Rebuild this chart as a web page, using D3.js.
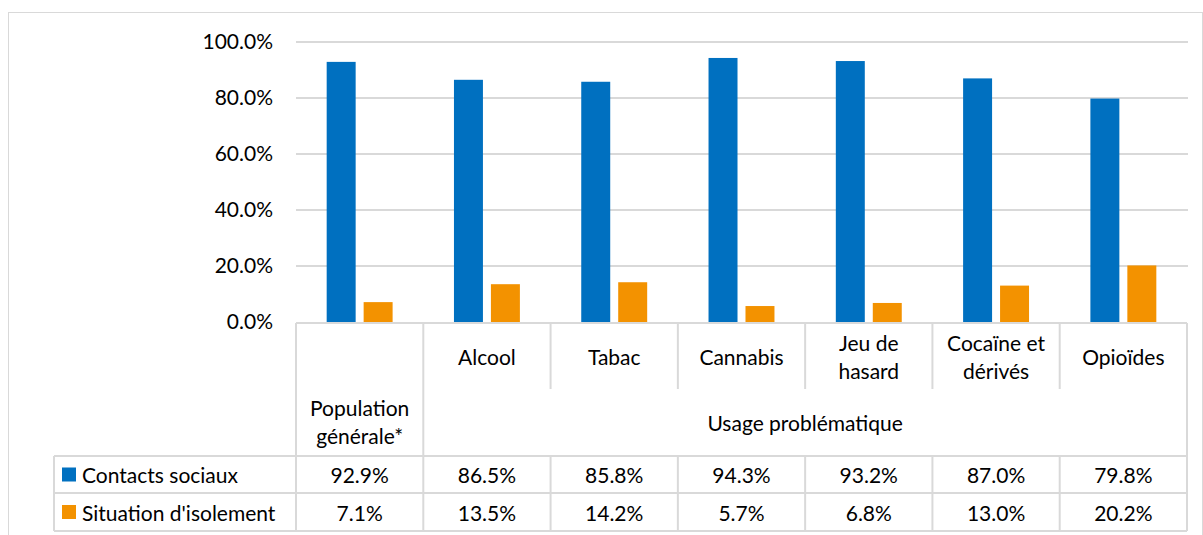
<!DOCTYPE html>
<html><head><meta charset="utf-8">
<script src="https://cdn.jsdelivr.net/npm/d3@7"></script>
<style>body{margin:0;background:#fff}svg{display:block}text{font-family:Lato,"Noto Sans",sans-serif;fill:#000}</style>
</head><body><svg id="c" width="1203" height="535"></svg>
<script>
const categories = [["Population","générale*"],["Alcool"],["Tabac"],["Cannabis"],["Jeu de","hasard"],["Cocaïne et","dérivés"],["Opioïdes"]];
const groupLabel = "Usage problématique";
const seriesNames = ["Contacts sociaux","Situation d'isolement"];
const contacts = [92.9,86.5,85.8,94.3,93.2,87.0,79.8];
const isolement = [7.1,13.5,14.2,5.7,6.8,13.0,20.2];
const yTicks = [0,20,40,60,80,100];
const colors = ["#0070C0","#F39200"];

const svg = d3.select("#c");
const grid = "#D9D9D9";
const fs = 21;
// outer border
svg.append("rect").attr("x",8.5).attr("y",12.5).attr("width",1194).attr("height",540).attr("fill","none").attr("stroke",grid);

const x0 = 296, x1 = 1187, yTop = 42, yBot = 322;
const ids = d3.range(categories.length);
const x = d3.scaleBand().domain(ids).range([x0,x1]).paddingInner(0).paddingOuter(0);
const y = d3.scaleLinear().domain([0,100]).range([yBot,yTop]);
const xs = d3.scaleBand().domain([0,1]).range([0,x.bandwidth()]).paddingInner(0.216).paddingOuter(0.83);

// gridlines
svg.append("g").selectAll("line").data(yTicks.filter(d=>d>0)).join("line")
  .attr("x1",x0).attr("x2",x1+1).attr("y1",d=>y(d)).attr("y2",d=>y(d)).attr("stroke",grid).attr("stroke-width",2);
// y labels
const yAxis = d3.axisLeft(y).tickValues(yTicks).tickFormat(d=>d.toFixed(1)+"%").tickSize(0).tickPadding(23);
const ga = svg.append("g").attr("transform",`translate(${x0},0)`).call(yAxis);
ga.select(".domain").remove();
ga.selectAll("text").attr("font-size",fs).attr("font-family","Lato").attr("fill","#000");

// bars
const series = [contacts,isolement];
series.forEach((vals,si)=>{
  svg.append("g").selectAll("rect").data(vals).join("rect")
    .attr("x",(d,i)=>x(i)+xs(si)).attr("width",xs.bandwidth())
    .attr("y",d=>y(d)).attr("height",d=>yBot-y(d)).attr("fill",colors[si]);
});

// data table
const rowTop = 323, rowCat = 389, rowGrp = 456, rowA = 493, rowB = 531, legL = 54;
const tl = svg.append("g").attr("stroke",grid).attr("stroke-width",2).attr("fill","none");
const L = (a,b,c,d)=>tl.append("line").attr("x1",a).attr("y1",b).attr("x2",c).attr("y2",d);
L(x0,rowTop,x1,rowTop);
L(legL,rowGrp,x1,rowGrp);
L(legL,rowA,x1,rowA);
L(legL,rowB,x1,rowB);
L(legL,rowGrp,legL,rowB);
ids.forEach(i=>{
  const xx = x(i);
  const full = (i===0||i===1);
  L(xx,rowTop,xx,full?rowB:rowCat);
  if(!full) L(xx,rowGrp,xx,rowB);
});
L(x1,rowTop,x1,rowB);

// category labels
const lh = 28;
ids.forEach(i=>{
  if(i===0) return;
  const lines = categories[i];
  const cy = (rowTop+rowCat)/2;
  lines.forEach((t,k)=>{
    svg.append("text").attr("x",x(i)+x.bandwidth()/2).attr("y",cy+(k-(lines.length-1)/2)*lh)
      .attr("text-anchor","middle").attr("dominant-baseline","central").attr("font-size",fs).text(t);
  });
});
{
  const lines = categories[0];
  const cy = (rowCat+rowGrp)/2 - 1;
  lines.forEach((t,k)=>{
    svg.append("text").attr("x",x(0)+x.bandwidth()/2).attr("y",cy+(k-(lines.length-1)/2)*lh)
      .attr("text-anchor","middle").attr("dominant-baseline","central").attr("font-size",fs).text(t);
  });
}
svg.append("text").attr("x",(x(1)+x1)/2).attr("y",(rowCat+rowGrp)/2-0.5)
  .attr("text-anchor","middle").attr("dominant-baseline","central").attr("font-size",fs).text(groupLabel);

// values rows
const rowsY = [(rowGrp+rowA)/2,(rowA+rowB)/2];
series.forEach((vals,si)=>{
  svg.append("g").selectAll("text").data(vals).join("text")
    .attr("x",(d,i)=>x(i)+x.bandwidth()/2).attr("y",rowsY[si])
    .attr("text-anchor","middle").attr("dominant-baseline","central").attr("font-size",fs)
    .text(d=>d.toFixed(1)+"%");
  svg.append("rect").attr("x",62).attr("y",rowsY[si]-7).attr("width",14).attr("height",14).attr("fill",colors[si]);
  svg.append("text").attr("x",82).attr("y",rowsY[si]).attr("dominant-baseline","central").attr("font-size",fs).text(seriesNames[si]);
});
</script></body></html>
